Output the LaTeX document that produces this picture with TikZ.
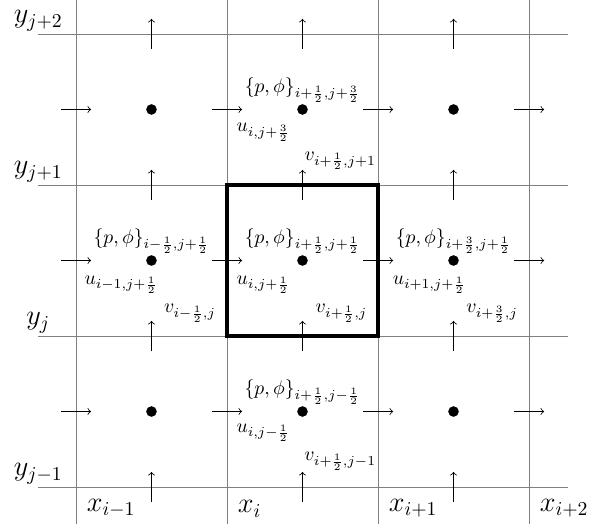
\documentclass[tikz,border=0pt]{standalone}
\begin{document}
\begin{tikzpicture}[x=2.7cm,y=2.7cm,>=to]
  \useasboundingbox (-0.503,-0.278) rectangle (3.417,3.225);
  \foreach \k/\lab in {0/{i-1},1/i,2/{i+1},3/{i+2}}{
    \draw[gray,thin] (\k,3.3) -- (\k,-0.245) node[above right,text=black,xshift=2pt] (x\k) {\Large $x_{\lab}$};
  }
  \foreach \k/\lab in {0/{j-1},1/j,2/{j+1},3/{j+2}}{
    \draw[gray,thin] (3.26,\k) -- (-0.25,\k) node[above,text=black,yshift=-2pt] (y\k) {\Large $y_{\lab}$};
  }
  \foreach \xx in {0.5,1.5,2.5}{
    \foreach \yy in {0,1,2,3}{
      \draw[->] (\xx,\yy-0.1) -- (\xx,\yy+0.1);
      \draw[->] (\yy-0.1,\xx) -- (\yy+0.1,\xx);
    }
    \foreach \yy in {0.5,1.5,2.5}
      \fill (\xx,\yy) circle (2.7pt);
  }
  \draw[line width=2pt] (1,1) rectangle (2,2);
  \node[above] (pt) at (1.5,2.5) {$\{p,\phi\}_{i+\frac12,j+\frac32}$};
  \node[above] (pl) at (0.5,1.5) {$\{p,\phi\}_{i-\frac12,j+\frac12}$};
  \node[above] (pc) at (1.5,1.5) {$\{p,\phi\}_{i+\frac12,j+\frac12}$};
  \node[above] (pr) at (2.5,1.5) {$\{p,\phi\}_{i+\frac32,j+\frac12}$};
  \node[above] (pb) at (1.5,0.5) {$\{p,\phi\}_{i+\frac12,j-\frac12}$};
  \node (ut) at (1.24,2.35) {$u_{i,j+\frac32}$};
  \node (ul) at (0.30,1.34) {$u_{i-1,j+\frac12}$};
  \node (uc) at (1.24,1.34) {$u_{i,j+\frac12}$};
  \node (ur) at (2.34,1.34) {$u_{i+1,j+\frac12}$};
  \node (ub) at (1.24,0.36) {$u_{i,j-\frac12}$};
  \node (vt) at (1.75,2.16) {$v_{i+\frac12,j+1}$};
  \node (vl) at (0.755,1.152) {$v_{i-\frac12,j}$};
  \node (vc) at (1.758,1.152) {$v_{i+\frac12,j}$};
  \node (vr) at (2.755,1.152) {$v_{i+\frac32,j}$};
  \node (vb) at (1.75,0.17) {$v_{i+\frac12,j-1}$};
\end{tikzpicture}
\end{document}
